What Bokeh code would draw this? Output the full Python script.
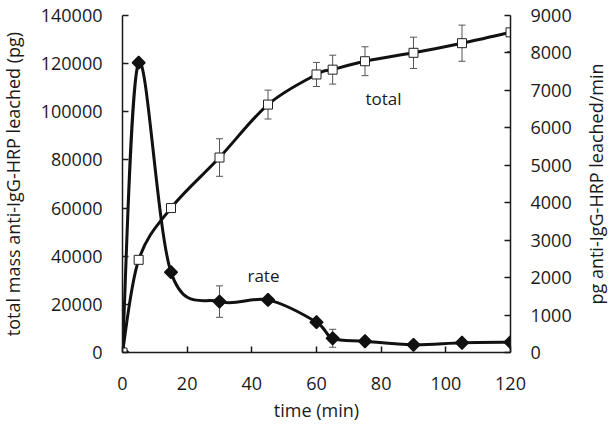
import math
import numpy as np
from bokeh.plotting import figure
from bokeh.layouts import row
from bokeh.models import (Range1d, LinearAxis, FixedTicker, BasicTickFormatter,
                          ColumnDataSource, Whisker, TeeHead)
from bokeh.core.properties import value
from bokeh.embed import file_html
from bokeh.resources import INLINE

# ---- data ----
time_total = [0, 5, 15, 30, 45, 60, 65, 75, 90, 105, 120]
total_pg = [0, 38500, 60000, 81000, 103000, 115500, 117500, 121000, 124500, 128500, 133000]
total_err = [0, 0, 0, 7800, 6000, 5000, 6000, 6000, 6500, 7500, 8000]

time_rate = [0, 5, 15, 30, 45, 60, 65, 75, 90, 105, 120]
rate_pg_min = [0, 7740, 2145, 1360, 1405, 810, 380, 300, 205, 260, 275]
rate_err = [0, 0, 0, 420, 0, 0, 240, 0, 0, 0, 0]

x_ticks = [0, 20, 40, 60, 80, 100, 120]
left_ticks = [0, 20000, 40000, 60000, 80000, 100000, 120000, 140000]
right_ticks = [0, 1000, 2000, 3000, 4000, 5000, 6000, 7000, 8000, 9000]

x_title = "time (min)"
left_title = "total mass anti-IgG-HRP leached (pg)"
right_title = "pg anti-IgG-HRP leached/min"

FONT = "Open Sans"
INK = "#1a1a1a"


def catmull_bezier(xs, ys):
    x = np.asarray(xs, float)
    y = np.asarray(ys, float)
    n = len(x)
    xp = np.concatenate([[x[0]], x, [x[-1]]])
    yp = np.concatenate([[y[0]], y, [y[-1]]])
    x0, y0 = x[:-1], y[:-1]
    x1, y1 = x[1:], y[1:]
    cx0 = x0 + (xp[2:n + 1] - xp[0:n - 1]) / 6.0
    cy0 = y0 + (yp[2:n + 1] - yp[0:n - 1]) / 6.0
    cx1 = x1 - (xp[3:n + 2] - xp[1:n]) / 6.0
    cy1 = y1 - (yp[3:n + 2] - yp[1:n]) / 6.0
    return dict(x0=x0, y0=y0, x1=x1, y1=y1, cx0=cx0, cy0=cy0, cx1=cx1, cy1=cy1)


H = 430
LW, MW, RW = 26, 556, 32


def title_panel(width, text, xc):
    f = figure(width=width, height=H, output_backend="svg", toolbar_location=None,
               x_range=Range1d(0, width), y_range=Range1d(0, H),
               x_axis_type=None, y_axis_type=None,
               min_border=0, min_border_left=0, min_border_right=0,
               min_border_top=0, min_border_bottom=0)
    f.outline_line_color = None
    f.xgrid.visible = False
    f.ygrid.visible = False
    f.text(x=[xc], y=[H / 2], text=[text], angle=math.pi / 2,
           text_font=value(FONT), text_font_size="18px", text_align="center",
           text_baseline="middle", text_color=INK)
    return f


left_panel = title_panel(LW, left_title, 12.5)
right_panel = title_panel(RW, right_title, 13.0)

p = figure(width=MW, height=H, output_backend="svg", toolbar_location=None,
           x_range=Range1d(0, 120), y_range=Range1d(0, 140000),
           min_border_left=96, min_border_right=72, min_border_top=15,
           min_border_bottom=78)
p.extra_y_ranges = {"rate": Range1d(0, 9000)}
p.outline_line_color = None
p.xgrid.visible = False
p.ygrid.visible = False


def style_axis(ax, ticks):
    ax.ticker = FixedTicker(ticks=ticks)
    ax.formatter = BasicTickFormatter(use_scientific=False)
    ax.major_tick_in = 6
    ax.major_tick_out = 0
    ax.minor_tick_line_color = None
    ax.axis_line_width = 1.5
    ax.major_tick_line_width = 1.5
    ax.axis_line_color = INK
    ax.major_tick_line_color = INK
    ax.major_label_text_font = FONT
    ax.major_label_text_font_size = "18px"
    ax.major_label_text_color = INK
    ax.axis_label_text_font = FONT
    ax.axis_label_text_font_size = "18px"
    ax.axis_label_text_font_style = "normal"
    ax.axis_label_text_color = INK
    ax.major_label_standoff = 20


style_axis(p.xaxis[0], x_ticks)
p.xaxis.axis_label = x_title
p.xaxis.major_label_standoff = 24
p.xaxis.axis_label_standoff = 5

style_axis(p.yaxis[0], left_ticks)

rax = LinearAxis(y_range_name="rate")
style_axis(rax, right_ticks)
p.add_layout(rax, "right")

# error bars
tsrc = ColumnDataSource(dict(x=time_total,
                             up=[v + e for v, e in zip(total_pg, total_err)],
                             lo=[v - e for v, e in zip(total_pg, total_err)]))
rsrc = ColumnDataSource(dict(x=time_rate,
                             up=[v + e for v, e in zip(rate_pg_min, rate_err)],
                             lo=[v - e for v, e in zip(rate_pg_min, rate_err)]))
for src, rn in ((tsrc, "default"), (rsrc, "rate")):
    w = Whisker(source=src, base="x", upper="up", lower="lo", dimension="height",
                line_color="#555555", line_width=1, level="underlay",
                y_range_name=rn,
                upper_head=TeeHead(size=7, line_color="#555555", line_width=1),
                lower_head=TeeHead(size=7, line_color="#555555", line_width=1))
    p.add_layout(w)

# smoothed lines
bt = catmull_bezier(time_total, total_pg)
p.bezier(source=ColumnDataSource(bt), x0="x0", y0="y0", x1="x1", y1="y1",
         cx0="cx0", cy0="cy0", cx1="cx1", cy1="cy1",
         line_color="#111111", line_width=3)
br = catmull_bezier(time_rate, rate_pg_min)
p.bezier(source=ColumnDataSource(br), x0="x0", y0="y0", x1="x1", y1="y1",
         cx0="cx0", cy0="cy0", cx1="cx1", cy1="cy1",
         line_color="#111111", line_width=3, y_range_name="rate")

# markers
p.scatter(time_rate, rate_pg_min, marker="square", size=9, angle=math.pi / 4,
          fill_color="#111111", line_color="#111111", line_width=1.5,
          y_range_name="rate")
p.scatter(time_total, total_pg, marker="square", size=9, fill_color="white",
          line_color="#222222", line_width=1)

# series labels
p.text(x=[80.7], y=[105500], text=["total"], text_font=value(FONT),
       text_font_size="17px", text_align="center", text_baseline="middle",
       text_color=INK)
p.text(x=[43.6], y=[32000], text=["rate"], text_font=value(FONT),
       text_font_size="17px", text_align="center", text_baseline="middle",
       text_color=INK)

layout = row(left_panel, p, right_panel, spacing=0)
open("out.html", "w").write(file_html(layout, INLINE))
